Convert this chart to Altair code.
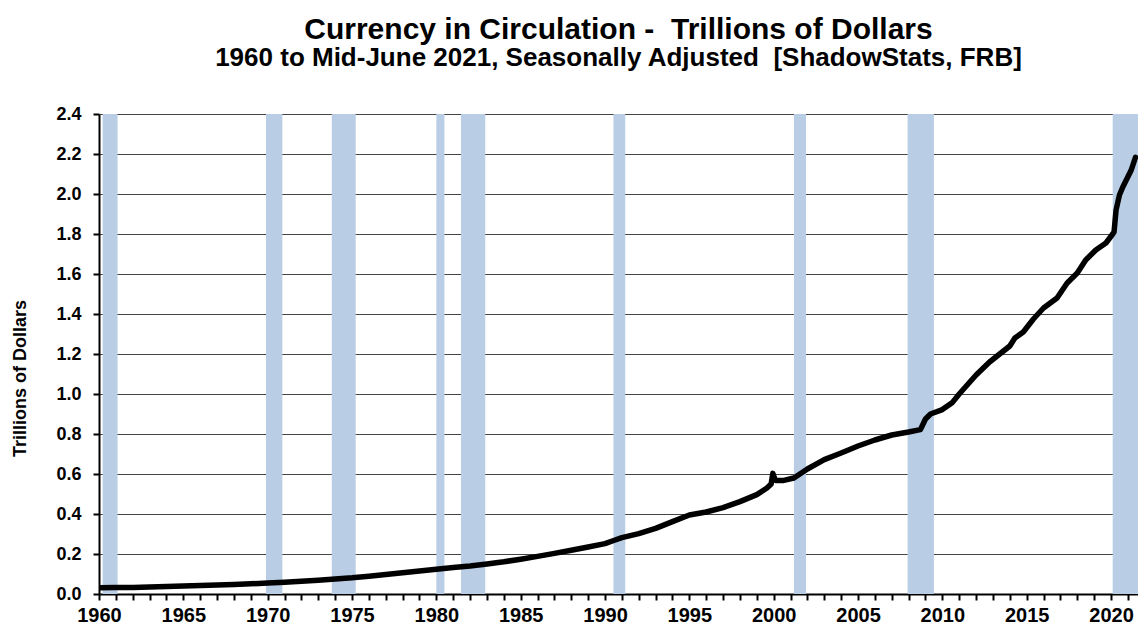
import altair as alt
import pandas as pd

# ---- data ----
years = [1960.0, 1961.0, 1962.0, 1963.0, 1964.0, 1965.0, 1966.0, 1967.0, 1968.0, 1969.0,
         1970.0, 1971.0, 1972.0, 1973.0, 1974.0, 1975.0, 1976.0, 1977.0, 1978.0, 1979.0,
         1980.0, 1981.0, 1982.0, 1983.0, 1984.0, 1985.0, 1986.0, 1987.0, 1988.0, 1989.0,
         1990.0, 1990.6, 1991.0, 1992.0, 1993.0, 1994.0, 1995.0, 1996.0, 1997.0, 1998.0,
         1999.0, 1999.6, 1999.85, 1999.95, 2000.1, 2000.6, 2001.2, 2002.0, 2003.0, 2004.0,
         2005.0, 2006.0, 2007.0, 2008.0, 2008.7, 2009.0, 2009.3, 2010.0, 2010.6, 2011.0,
         2012.0, 2012.8, 2014.0, 2014.3, 2014.8, 2015.4, 2016.0, 2016.8, 2017.4, 2018.0,
         2018.5, 2019.1, 2019.7, 2020.1, 2020.18, 2020.3, 2020.5, 2020.7, 2021.2, 2021.45]
currency = [0.031, 0.032, 0.033, 0.035, 0.037, 0.040, 0.042, 0.045, 0.048, 0.051,
            0.055, 0.059, 0.064, 0.069, 0.075, 0.081, 0.089, 0.097, 0.106, 0.115,
            0.124, 0.132, 0.140, 0.150, 0.161, 0.174, 0.188, 0.203, 0.219, 0.235,
            0.252, 0.270, 0.282, 0.302, 0.328, 0.362, 0.395, 0.410, 0.432, 0.462,
            0.497, 0.530, 0.550, 0.603, 0.568, 0.568, 0.580, 0.625, 0.672, 0.705,
            0.740, 0.770, 0.795, 0.810, 0.822, 0.875, 0.900, 0.922, 0.958, 1.000,
            1.095, 1.160, 1.240, 1.280, 1.310, 1.375, 1.430, 1.480, 1.555, 1.605,
            1.670, 1.720, 1.755, 1.800, 1.810, 1.920, 1.995, 2.035, 2.120, 2.183]

rec_start = [1960.22, 1969.9, 1973.8, 1980.0, 1981.46, 1990.5, 2001.2, 2007.94, 2020.1]
rec_end = [1961.1, 1970.87, 1975.22, 1980.48, 1982.9, 1991.2, 2001.92, 2009.5, 2021.6]

y_ticks = [0.0, 0.2, 0.4, 0.6, 0.8, 1.0, 1.2, 1.4, 1.6, 1.8, 2.0, 2.2, 2.4]
x_ticks = list(range(1960, 2022))

x_domain = [1960, 2021.6]
y_domain = [0, 2.4]

line_df = pd.DataFrame({"year": years, "value": currency})
band_df = pd.DataFrame({"start": rec_start, "end": rec_end,
                        "lo": [y_domain[0]] * len(rec_start),
                        "hi": [y_domain[1]] * len(rec_start)})

FONT = "Liberation Sans"

x_scale = alt.Scale(domain=x_domain, nice=False, zero=False)
y_scale = alt.Scale(domain=y_domain, nice=False, zero=True)

x_axis = alt.Axis(values=x_ticks, format="d",
                  labelExpr="datum.value % 5 === 0 ? datum.label : ''",
                  grid=False, tickSize=6, tickWidth=2, tickColor="black",
                  labelPadding=5, labelFontSize=20, labelFont=FONT,
                  labelFontWeight="bold", labelColor="black",
                  labelOverlap=False, labelFlush=False,
                  domainColor="black", domainWidth=2)
y_axis = alt.Axis(values=y_ticks, format=".1f", grid=True,
                  gridColor="#444444", gridWidth=1.2,
                  tickSize=6, tickWidth=2, tickColor="black",
                  labelPadding=12, labelFontSize=18, labelFont=FONT,
                  labelFontWeight="bold", labelColor="black",
                  domainColor="black", domainWidth=2,
                  titleFont=FONT, titleFontSize=18, titleFontWeight="bold",
                  titleColor="black", titlePadding=26, titleY=264)

bands = alt.Chart(band_df).mark_rect(color="#b9cde5", clip=True).encode(
    x=alt.X("start:Q", scale=x_scale, axis=x_axis, title=None),
    x2="end:Q",
    y=alt.Y("lo:Q", scale=y_scale, axis=y_axis, title="Trillions of Dollars"),
    y2="hi:Q",
)

line = alt.Chart(line_df).mark_line(
    color="black", strokeWidth=5.5, strokeCap="round", strokeJoin="round", clip=True
).encode(
    x=alt.X("year:Q", scale=x_scale, axis=x_axis, title=None),
    y=alt.Y("value:Q", scale=y_scale, axis=y_axis, title="Trillions of Dollars"),
)

chart = alt.layer(bands, line).properties(
    width=1039,
    height=480,
    padding={"left": 91, "top": 106, "right": 0, "bottom": 31},
    autosize=alt.AutoSizeParams(type="none"),
    title=alt.TitleParams(
        text="Currency in Circulation -\u00a0 Trillions of Dollars",
        subtitle="1960 to Mid-June 2021, Seasonally Adjusted\u00a0 [ShadowStats, FRB]",
        font=FONT, fontSize=30, fontWeight="bold", color="black",
        subtitleFont=FONT, subtitleFontSize=26, subtitleFontWeight="bold",
        subtitleColor="black", subtitlePadding=0,
        anchor="middle", offset=34,
    ),
).configure_view(stroke=None).configure(background="white")

chart.save("out.html", embed_options={"renderer": "svg", "actions": False})
